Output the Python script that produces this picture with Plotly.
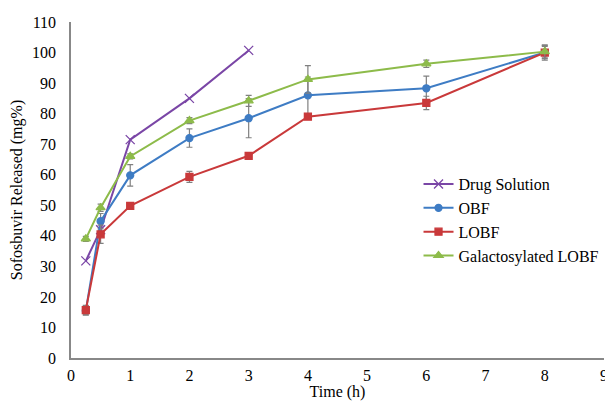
import plotly.graph_objects as go

time_drug = [0.25, 0.5, 1, 2, 3]
drug_solution = [31.8, 42, 71.5, 85, 100.7]

time_all = [0.25, 0.5, 1, 2, 3, 4, 6, 8]
obf = [15.5, 44.8, 59.8, 72, 78.5, 86, 88.3, 100]
obf_err = [1.5, 2.5, 3.5, 3, 6.4, 6, 4, 2.5]
lobf = [15.7, 40.5, 49.8, 59.3, 66.2, 79, 83.5, 100]
lobf_err = [1.5, 3, 0.5, 1.8, 0.8, 0.8, 2.2, 2]
gal_lobf = [39, 49.2, 66, 77.7, 84.2, 91.2, 96.3, 100.3]
gal_err = [0.8, 1.2, 0.8, 1, 1.8, 4.5, 1.2, 2]

series = [
    ("Drug Solution", time_drug, drug_solution, None, "#7A46A6", "x-thin", 9),
    ("OBF", time_all, obf, obf_err, "#3E7CC4", "circle", 7),
    ("LOBF", time_all, lobf, lobf_err, "#C9393A", "square", 7),
    ("Galactosylated LOBF", time_all, gal_lobf, gal_err, "#8DBB4A", "triangle-up", 8),
]

FONT = "Times New Roman, Liberation Serif, DejaVu Serif, serif"

fig = go.Figure()
for name, xs, ys, err, color, sym, sz in series:
    fig.add_trace(go.Scatter(
        x=xs, y=ys, name=name, mode="lines+markers",
        line=dict(color=color, width=2),
        marker=dict(symbol=sym, size=sz, color=color,
                    line=dict(color=color, width=1.3)),
        error_y=(dict(type="data", array=err, visible=True, color="#808080",
                      thickness=1.2, width=3) if err else None),
    ))

fig.update_layout(
    width=605, height=393,
    margin=dict(l=62, r=5, t=14, b=43),
    paper_bgcolor="white", plot_bgcolor="white",
    font=dict(family=FONT, size=16, color="black"),
    xaxis=dict(range=[0, 9], dtick=1, tick0=0, showgrid=False, zeroline=False,
               showline=True, linecolor="#888888", linewidth=1.5,
               ticks="", ticklabelstandoff=2, ticklabeloverflow="allow",
               title=dict(text="Time (h)", standoff=0,
                          font=dict(family=FONT, size=16))),
    yaxis=dict(range=[0, 110], dtick=10, tick0=0, showgrid=False, zeroline=False,
               showline=True, linecolor="#888888", linewidth=1.5,
               ticks="", ticklabelstandoff=10,
               title=dict(text="Sofosbuvir Released (mg%)", standoff=8,
                          font=dict(family=FONT, size=16))),
    legend=dict(x=0.652, y=0.568, xanchor="left", yanchor="top",
                bgcolor="rgba(0,0,0,0)", font=dict(family=FONT, size=16),
                tracegroupgap=0, itemwidth=30),
    showlegend=True,
)

fig.write_html("out.html")
